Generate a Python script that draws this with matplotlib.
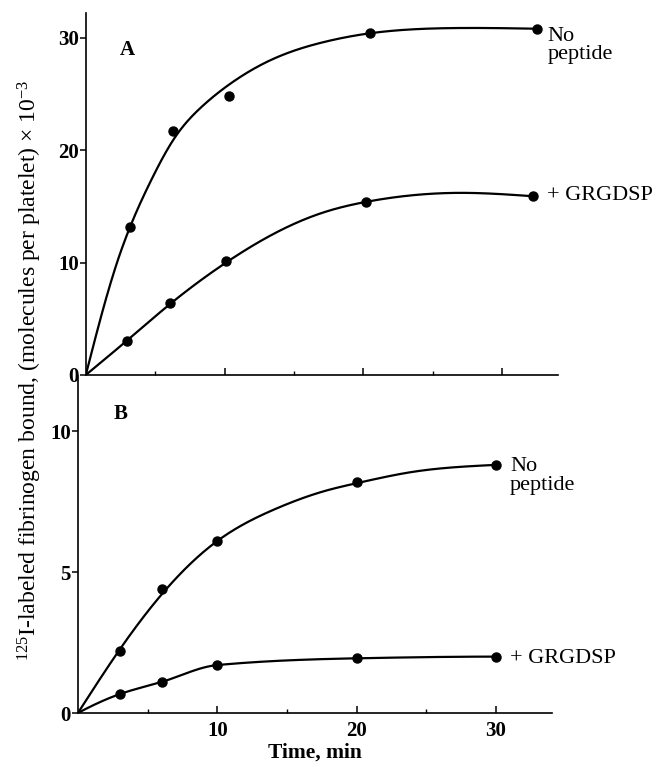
import matplotlib
matplotlib.use("Agg")
import matplotlib.pyplot as plt
import numpy as np

plt.rcParams['font.family'] = ['Liberation Serif', 'DejaVu Serif']
plt.rcParams['mathtext.fontset'] = 'custom'
plt.rcParams['mathtext.rm'] = 'Liberation Serif'
plt.rcParams['mathtext.it'] = 'Liberation Serif:italic'
plt.rcParams['mathtext.bf'] = 'Liberation Serif:bold'

# Panel A: measured points (time, molecules per platelet x 10^-3)
a_time_np = [3.2, 6.3, 10.3, 20.5, 32.5]
a_none = [13.2, 21.7, 24.8, 30.4, 30.8]
a_time_rgd = [3.0, 6.1, 10.1, 20.2, 32.2]
a_rgd = [3.0, 6.4, 10.1, 15.4, 15.9]

# Panel A: hand-drawn fit lines
a_curve_np_x = [0, 1.1, 2.25, 3.2, 4.7, 6.35, 8.3, 10.4, 13.3, 17.1, 20.5, 26.0, 32.5]
a_curve_np_y = [0, 5.2, 10.0, 13.2, 17.3, 21.0, 23.8, 25.9, 28.0, 29.6, 30.4, 30.85, 30.8]
a_curve_rgd_x = [0, 2.88, 6.06, 10.07, 13.3, 17.1, 20.2, 27.0, 32.2]
a_curve_rgd_y = [0, 2.97, 6.3, 9.97, 12.4, 14.45, 15.4, 16.2, 15.9]

# Panel B
b_time = [3, 6, 10, 20, 30]
b_none = [2.2, 4.4, 6.1, 8.2, 8.8]
b_rgd = [0.67, 1.1, 1.7, 1.94, 2.0]

b_curve_np_x = [0, 3, 6, 10, 14, 17.9, 20, 24, 30]
b_curve_np_y = [0, 2.25, 4.2, 6.1, 7.2, 7.9, 8.15, 8.55, 8.8]
b_curve_rgd_x = [0, 3, 6, 10, 20, 30]
b_curve_rgd_y = [0, 0.67, 1.1, 1.7, 1.94, 2.0]


def pchip(x, y, xs):
    # monotone cubic hermite, keeps the bend of the flat GRGDSP line
    x = np.asarray(x, float)
    y = np.asarray(y, float)
    h = np.diff(x)
    d = np.diff(y) / h
    n = len(x)
    m = np.zeros(n)
    for k in range(1, n - 1):
        if d[k - 1] * d[k] > 0:
            w1 = 2 * h[k] + h[k - 1]
            w2 = h[k] + 2 * h[k - 1]
            m[k] = (w1 + w2) / (w1 / d[k - 1] + w2 / d[k])
    m[0] = ((2 * h[0] + h[1]) * d[0] - h[0] * d[1]) / (h[0] + h[1])
    if np.sign(m[0]) != np.sign(d[0]):
        m[0] = 0
    m[-1] = ((2 * h[-1] + h[-2]) * d[-1] - h[-1] * d[-2]) / (h[-1] + h[-2])
    if np.sign(m[-1]) != np.sign(d[-1]):
        m[-1] = 0
    idx = np.clip(np.searchsorted(x, xs) - 1, 0, n - 2)
    t = (xs - x[idx]) / h[idx]
    h00 = 2 * t**3 - 3 * t**2 + 1
    h10 = t**3 - 2 * t**2 + t
    h01 = -2 * t**3 + 3 * t**2
    h11 = t**3 - t**2
    return h00 * y[idx] + h10 * h[idx] * m[idx] + h01 * y[idx + 1] + h11 * h[idx] * m[idx + 1]


def spline(x, y, xs):
    # natural cubic spline (C2, no visible kinks)
    x = np.asarray(x, float)
    y = np.asarray(y, float)
    n = len(x)
    h = np.diff(x)
    d = np.diff(y) / h
    A = np.zeros((n, n))
    r = np.zeros(n)
    A[0, 0] = A[-1, -1] = 1
    for i in range(1, n - 1):
        A[i, i - 1] = h[i - 1]
        A[i, i] = 2 * (h[i - 1] + h[i])
        A[i, i + 1] = h[i]
        r[i] = 6 * (d[i] - d[i - 1])
    M = np.linalg.solve(A, r)
    i = np.clip(np.searchsorted(x, xs) - 1, 0, n - 2)
    hi = h[i]
    a = x[i + 1] - xs
    b = xs - x[i]
    return (M[i] * a**3 / (6 * hi) + M[i + 1] * b**3 / (6 * hi)
            + (y[i] / hi - M[i] * hi / 6) * a + (y[i + 1] / hi - M[i + 1] * hi / 6) * b)


def draw_curve(ax, cx, cy, how=spline):
    xs = np.linspace(cx[0], cx[-1], 400)
    ax.plot(xs, how(cx, cy, xs), color='black', lw=1.6, zorder=2)


def style_axis(ax, ymax, yticks):
    ax.set_xlim(0, 34)
    ax.set_ylim(0, ymax)
    for s in ['top', 'right']:
        ax.spines[s].set_visible(False)
    for s in ['left', 'bottom']:
        ax.spines[s].set_linewidth(1.2)
    ax.set_yticks(yticks)
    ax.set_xticks([10, 20, 30])
    ax.set_xticks([5, 15, 25], minor=True)
    ax.tick_params(axis='x', which='major', direction='in', length=5, width=1.1)
    ax.tick_params(axis='x', which='minor', direction='in', length=3, width=1.0)
    ax.tick_params(axis='y', direction='out', length=4, width=1.1, labelsize=15, pad=1)
    ax.tick_params(axis='x', labelsize=15, pad=6)
    for lab in ax.get_xticklabels() + ax.get_yticklabels():
        lab.set_fontweight('bold')


fig = plt.figure(figsize=(6.6, 7.69), dpi=100)
ax1 = fig.add_axes([0.130, 0.5124, 0.715, 0.4707])
ax2 = fig.add_axes([0.118, 0.0728, 0.718, 0.4382])

# panel A
draw_curve(ax1, a_curve_np_x, a_curve_np_y)
draw_curve(ax1, a_curve_rgd_x, a_curve_rgd_y)
ax1.plot(a_time_np, a_none, 'o', color='black', ms=6.5, zorder=3, clip_on=False)
ax1.plot(a_time_rgd, a_rgd, 'o', color='black', ms=6.5, zorder=3, clip_on=False)
style_axis(ax1, 32.2, [0, 10, 20, 30])
ax1.set_xticklabels([])
ax1.text(3.0, 28.9, 'A', fontsize=15, fontweight='bold', ha='center', va='center')
ax1.text(33.25, 29.3, 'No\npeptide', fontsize=16, ha='left',
         va='center', linespacing=0.95, clip_on=False)
ax1.text(33.2, 16.0, '+ GRGDSP', fontsize=16, ha='left', va='center', clip_on=False)

# panel B
draw_curve(ax2, b_curve_np_x, b_curve_np_y)
draw_curve(ax2, b_curve_rgd_x, b_curve_rgd_y, how=pchip)
ax2.plot(b_time, b_none, 'o', color='black', ms=6.5, zorder=3, clip_on=False)
ax2.plot(b_time, b_rgd, 'o', color='black', ms=6.5, zorder=3, clip_on=False)
style_axis(ax2, 11.95, [0, 5, 10])
ax2.text(3.1, 10.6, 'B', fontsize=15, fontweight='bold', ha='center', va='center')
ax2.text(31.0, 8.4, 'No\npeptide', fontsize=16, ha='left',
         va='center', linespacing=0.95, clip_on=False)
ax2.text(31.0, 1.95, '+ GRGDSP', fontsize=16, ha='left', va='center', clip_on=False)
ax2.set_xlabel('Time, min', fontsize=15.5, fontweight='bold', labelpad=1)

fig.text(0.046, 1 - 370 / 769,
         r'$^{125}$I-labeled fibrinogen bound, (molecules per platelet) $\times$ 10$^{-3}$',
         rotation=90, ha='center', va='center', fontsize=17)

fig.savefig('out.png', dpi=100)
